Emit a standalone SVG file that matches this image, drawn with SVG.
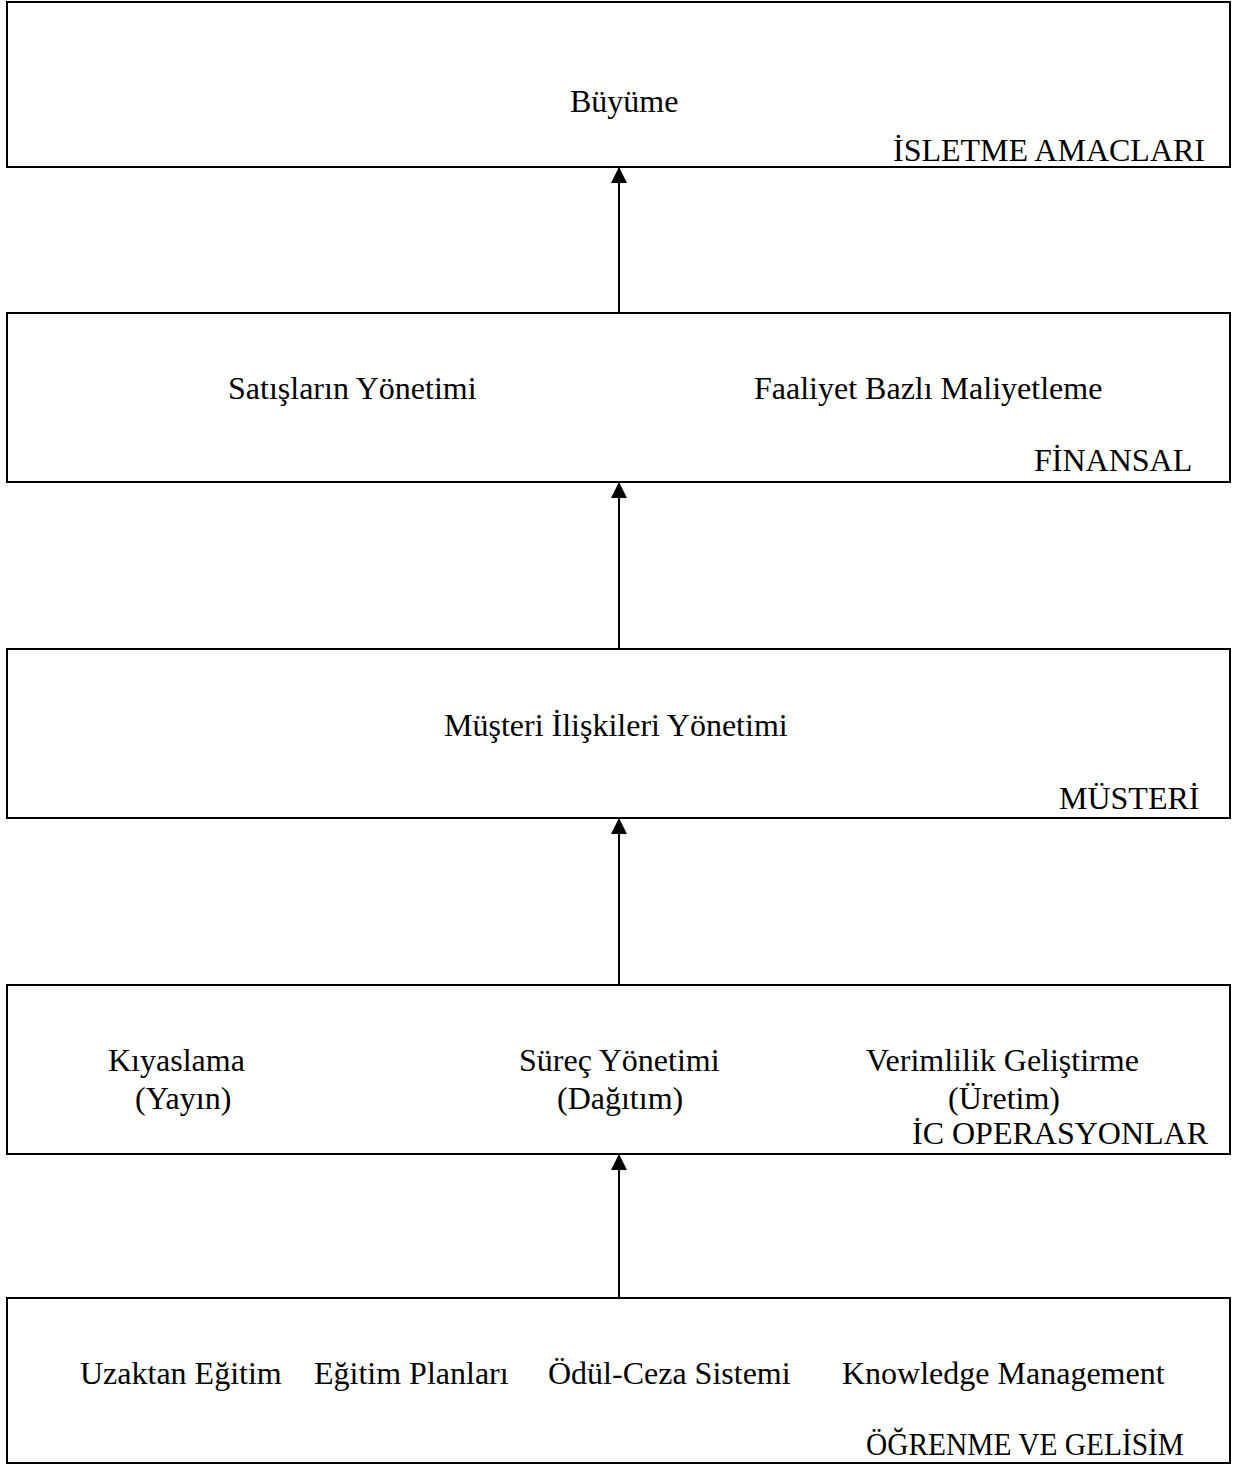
<svg xmlns="http://www.w3.org/2000/svg" width="1246" height="1466" viewBox="0 0 1246 1466">
  <style>
    .box { fill: #ffffff; stroke: #000000; stroke-width: 2; }
    .t { font-family: "Liberation Serif", "Times New Roman", serif; font-size: 32px; fill: #000000; }
    .link { stroke: #000000; stroke-width: 2; fill: none; marker-end: url(#arrow); }
  </style>
  <defs>
    <marker id="arrow" markerUnits="userSpaceOnUse" markerWidth="16" markerHeight="16" viewBox="0 0 16 16" refX="15" refY="8" orient="auto">
      <path d="M0,0 L16,8 L0,16 Z" fill="#000000"/>
    </marker>
  </defs>
  <rect width="1246" height="1466" fill="#ffffff"/>

  <g id="isletme-amaclari">
    <rect class="box" x="7" y="2" width="1223" height="165"/>
    <text class="t" x="570" y="112">Büyüme</text>
    <text class="t" x="893" y="161">İSLETME AMACLARI</text>
  </g>

  <g id="finansal">
    <rect class="box" x="7" y="313" width="1223" height="169"/>
    <text class="t" x="228" y="399">Satışların Yönetimi</text>
    <text class="t" x="754" y="399">Faaliyet Bazlı Maliyetleme</text>
    <text class="t" x="1034" y="471">FİNANSAL</text>
  </g>

  <g id="musteri">
    <rect class="box" x="7" y="649" width="1223" height="169"/>
    <text class="t" x="444" y="736">Müşteri İlişkileri Yönetimi</text>
    <text class="t" x="1059" y="809">MÜSTERİ</text>
  </g>

  <g id="ic-operasyonlar">
    <rect class="box" x="7" y="985" width="1223" height="169"/>
    <text class="t" x="108" y="1071">Kıyaslama</text>
    <text class="t" x="135" y="1109">(Yayın)</text>
    <text class="t" x="519" y="1071">Süreç Yönetimi</text>
    <text class="t" x="557" y="1109">(Dağıtım)</text>
    <text class="t" x="866" y="1071">Verimlilik Geliştirme</text>
    <text class="t" x="948" y="1109">(Üretim)</text>
    <text class="t" x="912" y="1144">İC OPERASYONLAR</text>
  </g>

  <g id="ogrenme-ve-gelisim">
    <rect class="box" x="7" y="1298" width="1223" height="165"/>
    <text class="t" x="80" y="1384">Uzaktan Eğitim</text>
    <text class="t" x="314" y="1384">Eğitim Planları</text>
    <text class="t" x="548" y="1384">Ödül-Ceza Sistemi</text>
    <text class="t" x="842" y="1384">Knowledge Management</text>
    <text class="t" x="866" y="1455" textLength="318" lengthAdjust="spacingAndGlyphs">ÖĞRENME VE GELİSİM</text>
  </g>

  <g id="connectors">
    <line class="link" x1="619" y1="313" x2="619" y2="168"/>
    <line class="link" x1="619" y1="649" x2="619" y2="483"/>
    <line class="link" x1="619" y1="985" x2="619" y2="819"/>
    <line class="link" x1="619" y1="1298" x2="619" y2="1155"/>
  </g>
</svg>
